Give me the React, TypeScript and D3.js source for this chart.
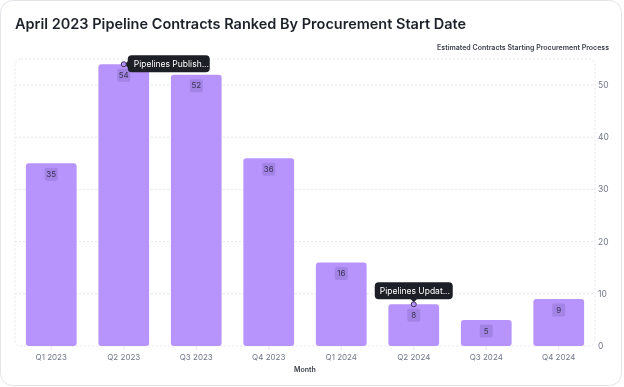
import React, { useEffect, useRef } from "react";
import * as d3 from "d3";

const quarters = ["Q1 2023", "Q2 2023", "Q3 2023", "Q4 2023", "Q1 2024", "Q2 2024", "Q3 2024", "Q4 2024"];
const contracts = [35, 54, 52, 36, 16, 8, 5, 9];
const yTicks = [0, 10, 20, 30, 40, 50];
const noteQuarters = ["Q2 2023", "Q2 2024"];
const noteTexts = ["Pipelines Publish...", "Pipelines Updat..."];
const notePlacement = ["right", "top"];

const App: React.FC = () => {
  const svgRef = useRef<SVGSVGElement | null>(null);

  useEffect(() => {
    if (!svgRef.current) return;
    const svg = d3.select(svgRef.current);
    svg.selectAll("*").remove();

    const width = 624;
    const height = 387;
    const left = 15;
    const right = 595;
    const top = 59;
    const bottom = 346;
    const font = "Inter, 'Noto Sans', sans-serif";

    svg.attr("width", width).attr("height", height).style("font-family", font);

    // card
    svg
      .append("rect")
      .attr("x", 0.5)
      .attr("y", 0.5)
      .attr("width", width - 3)
      .attr("height", height - 2)
      .attr("rx", 12)
      .attr("fill", "#fff")
      .attr("stroke", "#e3e4e8");

    svg
      .append("text")
      .attr("x", 15)
      .attr("y", 29)
      .attr("font-size", 14.5)
      .attr("font-weight", 600)
      .attr("fill", "#1d2129")
      .text("April 2023 Pipeline Contracts Ranked By Procurement Start Date");

    svg
      .append("text")
      .attr("x", 609)
      .attr("y", 50)
      .attr("text-anchor", "end")
      .attr("font-size", 7)
      .attr("font-weight", 600)
      .attr("fill", "#3b3f48")
      .text("Estimated Contracts Starting Procurement Process");

    const x = d3.scaleBand<string>().domain(quarters).range([left, right]).paddingInner(0.3).paddingOuter(0.15);
    const y = d3.scaleLinear().domain([0, 55]).range([bottom, top]);

    // plot frame
    svg
      .append("rect")
      .attr("x", left)
      .attr("y", top)
      .attr("width", right - left)
      .attr("height", bottom - top)
      .attr("rx", 6)
      .attr("fill", "none")
      .attr("stroke", "#e6e7eb")
      .attr("stroke-dasharray", "2,2");

    // grid
    svg
      .append("g")
      .selectAll("line")
      .data(yTicks.filter((t) => t > 0))
      .enter()
      .append("line")
      .attr("x1", left)
      .attr("x2", right)
      .attr("y1", (d) => y(d))
      .attr("y2", (d) => y(d))
      .attr("stroke", "#e6e7eb")
      .attr("stroke-dasharray", "2,2");

    // y axis labels (right)
    svg
      .append("g")
      .selectAll("text")
      .data(yTicks)
      .enter()
      .append("text")
      .attr("x", 598)
      .attr("y", (d) => y(d))
      .attr("dy", "0.35em")
      .attr("font-size", 8.5)
      .attr("fill", "#717788")
      .text((d) => d);

    // x tick marks and labels
    const xg = svg.append("g");
    xg.selectAll("line")
      .data(quarters)
      .enter()
      .append("line")
      .attr("x1", (d) => (x(d) as number) + x.bandwidth() / 2)
      .attr("x2", (d) => (x(d) as number) + x.bandwidth() / 2)
      .attr("y1", bottom)
      .attr("y2", bottom + 4)
      .attr("stroke", "#e6e7eb");
    xg.selectAll("text")
      .data(quarters)
      .enter()
      .append("text")
      .attr("x", (d) => (x(d) as number) + x.bandwidth() / 2)
      .attr("y", 360)
      .attr("text-anchor", "middle")
      .attr("font-size", 8)
      .attr("fill", "#717788")
      .text((d) => d);

    svg
      .append("text")
      .attr("x", 305)
      .attr("y", 372)
      .attr("text-anchor", "middle")
      .attr("font-size", 7)
      .attr("font-weight", 600)
      .attr("fill", "#3b3f48")
      .text("Month");

    // bars
    svg
      .append("g")
      .selectAll("rect")
      .data(quarters)
      .enter()
      .append("rect")
      .attr("x", (d) => x(d) as number)
      .attr("y", (d, i) => y(contracts[i]))
      .attr("width", x.bandwidth())
      .attr("height", (d, i) => bottom - y(contracts[i]))
      .attr("rx", 3)
      .attr("fill", "#b794fb");

    // value badges
    const badges = svg
      .append("g")
      .selectAll("g")
      .data(quarters)
      .enter()
      .append("g")
      .attr(
        "transform",
        (d, i) => `translate(${(x(d) as number) + x.bandwidth() / 2},${y(contracts[i]) + 11})`
      );
    badges
      .append("rect")
      .attr("x", -6.5)
      .attr("y", -6.5)
      .attr("width", 13)
      .attr("height", 13)
      .attr("rx", 2)
      .attr("fill", "#a383e6");
    badges
      .append("text")
      .attr("text-anchor", "middle")
      .attr("dy", "0.35em")
      .attr("font-size", 8)
      .attr("fill", "#3a3350")
      .text((d, i) => contracts[i]);

    // annotations
    noteQuarters.forEach((q, k) => {
      const i = quarters.indexOf(q);
      const cx = (x(q) as number) + x.bandwidth() / 2;
      const cy = y(contracts[i]);
      const g = svg.append("g");
      const w = 80;
      const h = 17;
      if (notePlacement[k] === "right") {
        const bx = cx + 4;
        const by = cy - h / 2 - 0.5;
        g.append("rect").attr("x", bx).attr("y", by).attr("width", w + 2).attr("height", h).attr("rx", 4).attr("fill", "#1c1f26");
        g.append("path")
          .attr("d", `M${bx + 1},${cy - 4}L${bx - 3},${cy}L${bx + 1},${cy + 4}Z`)
          .attr("fill", "#1c1f26");
        g.append("text")
          .attr("x", bx + 6)
          .attr("y", by + h / 2)
          .attr("dy", "0.35em")
          .attr("font-size", 8.5)
          .attr("fill", "#fff")
          .text(noteTexts[k]);
      } else {
        const bx = cx - 39;
        const by = cy - 22;
        g.append("rect").attr("x", bx).attr("y", by).attr("width", w - 2).attr("height", h).attr("rx", 4).attr("fill", "#1c1f26");
        g.append("path")
          .attr("d", `M${cx - 4},${by + h - 1}L${cx},${by + h + 3}L${cx + 4},${by + h - 1}Z`)
          .attr("fill", "#1c1f26");
        g.append("text")
          .attr("x", bx + 5)
          .attr("y", by + h / 2)
          .attr("dy", "0.35em")
          .attr("font-size", 8.5)
          .attr("fill", "#fff")
          .text(noteTexts[k]);
      }
      g.append("circle")
        .attr("cx", cx)
        .attr("cy", cy)
        .attr("r", 2.5)
        .attr("fill", "#b794fb")
        .attr("stroke", "#3a3350")
        .attr("stroke-width", 1);
    });
  }, []);

  return (
    <div style={{ position: "fixed", left: 0, top: 0 }}>
      <svg ref={svgRef}></svg>
    </div>
  );
};

export default App;
